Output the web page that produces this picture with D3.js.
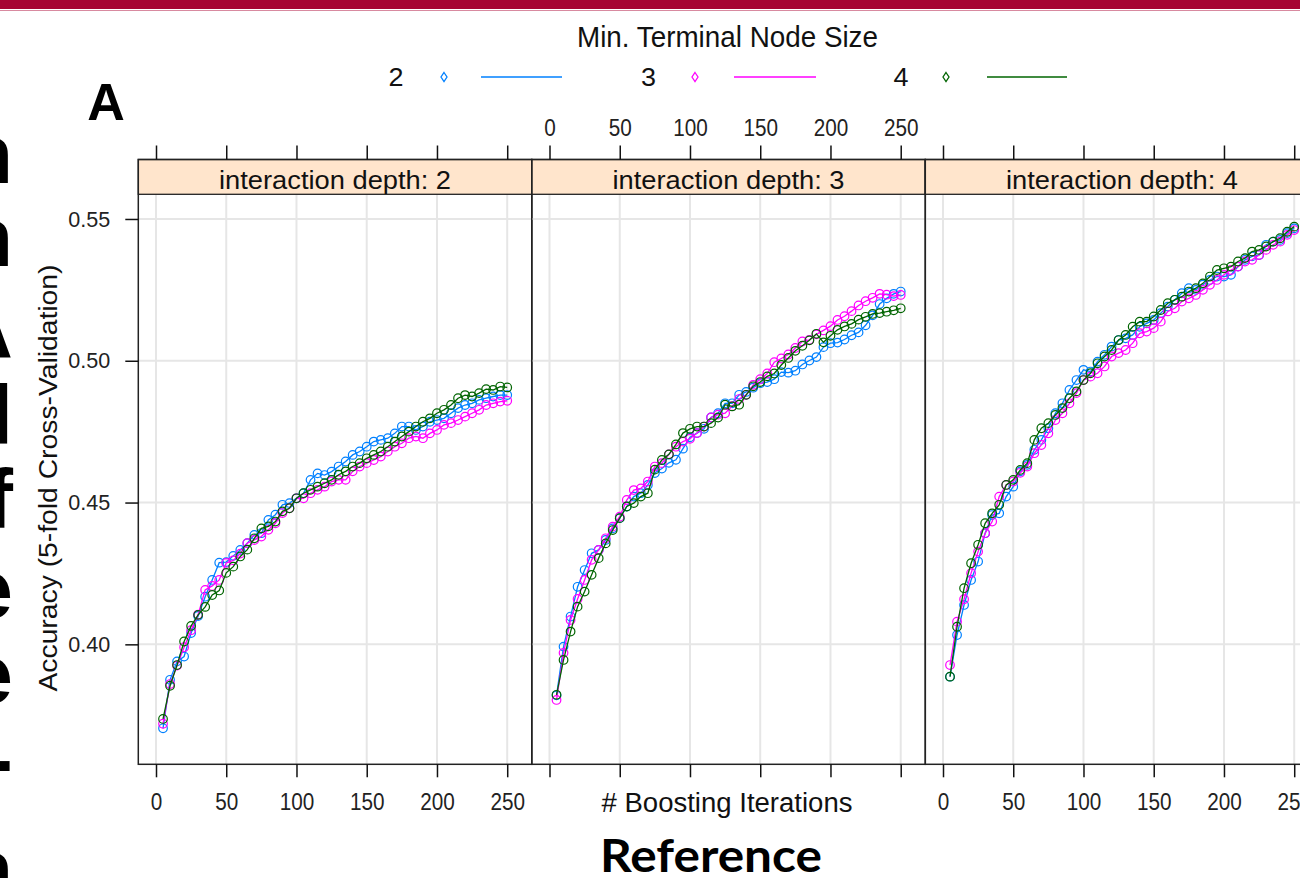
<!DOCTYPE html>
<html><head><meta charset="utf-8">
<script src="https://cdn.jsdelivr.net/npm/d3@7"></script>
<style>body{margin:0;background:#fff}svg{display:block}</style>
</head><body><svg id="c" width="1300" height="878"></svg>
<script>
// ---------------- data ----------------
const iterations = [5,10,15,20,25,30,35,40,45,50,55,60,65,70,75,80,85,90,95,100,
  105,110,115,120,125,130,135,140,145,150,155,160,165,170,175,180,185,190,195,200,
  205,210,215,220,225,230,235,240,245,250];
const panelTitles = ["interaction depth: 2","interaction depth: 3","interaction depth: 4"];
const nodeSizes = ["2","3","4"];
const seriesColors = ["#0080ff","#ff00ff","#006400"];
const xTicks = [0,50,100,150,200,250];
const yTicks = [0.40,0.45,0.50,0.55];
const yTickLabels = ["0.40","0.45","0.50","0.55"];

// interaction depth 2
const d2_n2 = [0.3704,0.3875,0.3940,0.3957,0.4040,0.4100,0.4168,0.4227,0.4288,0.4290,
  0.4312,0.4333,0.4357,0.4386,0.4392,0.4439,0.4457,0.4492,0.4498,0.4515,
  0.4533,0.4580,0.4603,0.4597,0.4609,0.4627,0.4645,0.4668,0.4680,0.4697,
  0.4715,0.4721,0.4727,0.4744,0.4768,0.4768,0.4756,0.4768,0.4785,0.4791,
  0.4797,0.4815,0.4833,0.4844,0.4850,0.4862,0.4868,0.4874,0.4879,0.4879];
const d2_n3 = [0.3720,0.3860,0.3925,0.3990,0.4050,0.4105,0.4192,0.4206,0.4227,0.4287,
  0.4296,0.4320,0.4357,0.4368,0.4380,0.4404,0.4427,0.4463,0.4480,0.4515,
  0.4515,0.4533,0.4545,0.4556,0.4574,0.4580,0.4580,0.4610,0.4627,0.4639,
  0.4650,0.4662,0.4680,0.4697,0.4709,0.4727,0.4733,0.4727,0.4744,0.4756,
  0.4774,0.4780,0.4791,0.4803,0.4815,0.4827,0.4844,0.4850,0.4856,0.4859];
const d2_n4 = [0.3737,0.3854,0.3927,0.4010,0.4065,0.4104,0.4132,0.4174,0.4190,0.4252,
  0.4274,0.4310,0.4334,0.4374,0.4409,0.4416,0.4433,0.4469,0.4480,0.4515,
  0.4533,0.4545,0.4556,0.4568,0.4580,0.4598,0.4610,0.4627,0.4639,0.4656,
  0.4668,0.4680,0.4697,0.4715,0.4733,0.4750,0.4768,0.4785,0.4797,0.4815,
  0.4827,0.4844,0.4868,0.4879,0.4874,0.4886,0.4900,0.4897,0.4909,0.4906];
// interaction depth 3
const d3_n2 = [0.3820,0.3992,0.4098,0.4203,0.4262,0.4321,0.4333,0.4368,0.4409,0.4445,
  0.4486,0.4521,0.4533,0.4562,0.4604,0.4620,0.4640,0.4651,0.4690,0.4730,
  0.4745,0.4760,0.4800,0.4815,0.4850,0.4850,0.4880,0.4890,0.4905,0.4921,
  0.4925,0.4935,0.4960,0.4958,0.4965,0.4987,0.5001,0.5013,0.5048,0.5062,
  0.5064,0.5075,0.5090,0.5100,0.5125,0.5160,0.5200,0.5220,0.5236,0.5244];
const d3_n3 = [0.3804,0.3970,0.4086,0.4160,0.4227,0.4298,0.4333,0.4374,0.4415,0.4450,
  0.4509,0.4544,0.4550,0.4574,0.4627,0.4639,0.4670,0.4697,0.4715,0.4725,
  0.4745,0.4768,0.4800,0.4810,0.4815,0.4840,0.4865,0.4880,0.4915,0.4935,
  0.4955,0.4995,0.5008,0.5022,0.5045,0.5068,0.5074,0.5093,0.5107,0.5122,
  0.5144,0.5157,0.5175,0.5195,0.5210,0.5222,0.5236,0.5233,0.5228,0.5232];
const d3_n4 = [0.3822,0.3945,0.4045,0.4133,0.4186,0.4245,0.4304,0.4356,0.4403,0.4445,
  0.4486,0.4498,0.4521,0.4533,0.4616,0.4650,0.4670,0.4705,0.4745,0.4760,
  0.4768,0.4768,0.4780,0.4800,0.4845,0.4839,0.4845,0.4880,0.4910,0.4925,
  0.4945,0.4955,0.4985,0.5010,0.5035,0.5053,0.5072,0.5095,0.5065,0.5088,
  0.5109,0.5121,0.5130,0.5145,0.5155,0.5165,0.5168,0.5173,0.5178,0.5185];
// interaction depth 4
const d4_n2 = [0.3886,0.4033,0.4139,0.4227,0.4292,0.4392,0.4456,0.4462,0.4521,0.4556,
  0.4610,0.4633,0.4686,0.4721,0.4762,0.4815,0.4850,0.4897,0.4932,0.4968,
  0.4962,0.4997,0.5021,0.5050,0.5073,0.5079,0.5091,0.5120,0.5132,0.5144,
  0.5168,0.5191,0.5215,0.5238,0.5256,0.5250,0.5268,0.5285,0.5297,0.5297,
  0.5303,0.5332,0.5356,0.5368,0.5373,0.5409,0.5420,0.5426,0.5450,0.5467];
const d4_n3 = [0.3927,0.4080,0.4159,0.4251,0.4327,0.4392,0.4433,0.4521,0.4562,0.4574,
  0.4605,0.4627,0.4674,0.4703,0.4744,0.4791,0.4815,0.4850,0.4886,0.4932,
  0.4944,0.4956,0.4980,0.5015,0.5027,0.5038,0.5062,0.5097,0.5103,0.5115,
  0.5138,0.5174,0.5185,0.5209,0.5220,0.5232,0.5250,0.5268,0.5285,0.5303,
  0.5320,0.5332,0.5350,0.5356,0.5373,0.5391,0.5409,0.5420,0.5444,0.5461];
const d4_n4 = [0.3886,0.4062,0.4198,0.4286,0.4351,0.4427,0.4462,0.4492,0.4562,0.4580,
  0.4615,0.4639,0.4721,0.4762,0.4780,0.4809,0.4833,0.4868,0.4892,0.4932,
  0.4956,0.4991,0.5015,0.5038,0.5073,0.5091,0.5120,0.5138,0.5138,0.5156,
  0.5179,0.5203,0.5215,0.5226,0.5244,0.5256,0.5273,0.5297,0.5320,0.5326,
  0.5332,0.5350,0.5362,0.5385,0.5391,0.5403,0.5420,0.5432,0.5455,0.5473];

const panelSeries = [[d2_n2,d2_n3,d2_n4],[d3_n2,d3_n3,d3_n4],[d4_n2,d4_n3,d4_n4]];
const slideFragments = ["n","n","A","l","f","e","e","-","n"];

// ---------------- layout ----------------
const svg = d3.select("#c");
const FONT = "'Liberation Sans', Arial, sans-serif";
const panelW = 393.5, firstLeft = 138.3;
const frameTop = 159.5, stripBottom = 194.3, plotBottom = 764.3;
const y = d3.scaleLinear().domain([0.3577, 0.5587]).range([plotBottom, stripBottom]);
const xScales = [0,1,2].map(i => d3.scaleLinear().domain([-12.6, 267.5])
  .range([firstLeft + i*panelW, firstLeft + (i+1)*panelW]));

function squeeze(sel, len){ sel.attr("textLength", len).attr("lengthAdjust","spacingAndGlyphs"); }

// top slide bar
svg.append("rect").attr("x",0).attr("y",0).attr("width",1300).attr("height",9).attr("fill","#a60433");
svg.append("line").attr("x1",0).attr("x2",1300).attr("y1",10.5).attr("y2",10.5).attr("stroke","#d88aa0").attr("stroke-width",1);

// slide text fragments at left edge (rest of the slide text is off-screen)
const fragY = [183, 266, 358, 444, 528, 618, 703, 788, 898];
svg.selectAll("text.frag").data(slideFragments).join("text").attr("class","frag")
  .attr("x",13).attr("y",(d,i)=>fragY[i]).attr("text-anchor","end")
  .attr("font-family","'Liberation Sans', Arial, sans-serif").attr("font-weight","bold")
  .attr("font-size",84).attr("fill","#000").text(d=>d);

// "A"
svg.append("text").attr("x",106).attr("y",120).attr("text-anchor","middle")
  .attr("font-family",FONT).attr("font-weight","bold").attr("font-size",52).text("A");

// legend
svg.append("text").attr("x",727.5).attr("y",47).attr("text-anchor","middle")
  .attr("font-family",FONT).attr("font-size",29).attr("fill","#111")
  .text("Min. Terminal Node Size").call(squeeze,301);
const legX = [{t:396, p:444, l1:481, l2:562},{t:648.5, p:695, l1:734, l2:816},{t:901, p:946, l1:987, l2:1067}];
nodeSizes.forEach((s,i)=>{
  const g = svg.append("g");
  g.append("text").attr("x",legX[i].t).attr("y",86).attr("text-anchor","middle")
    .attr("font-family",FONT).attr("font-size",26).attr("fill","#111").text(s).call(squeeze,15);
  g.append("path").attr("d",`M${legX[i].p},${72.5}L${legX[i].p+3},77L${legX[i].p},${81.5}L${legX[i].p-3},77Z`)
    .attr("fill","none").attr("stroke",seriesColors[i]).attr("stroke-width",1.3);
  g.append("line").attr("x1",legX[i].l1).attr("x2",legX[i].l2).attr("y1",77).attr("y2",77)
    .attr("stroke",seriesColors[i]).attr("stroke-width",1.6);
});

// panels
panelSeries.forEach((series,pi)=>{
  const x = xScales[pi];
  const L = firstLeft + pi*panelW, R = L + panelW;
  const g = svg.append("g");
  // grid
  g.selectAll("line.vg").data(xTicks).join("line")
    .attr("x1",d=>x(d)).attr("x2",d=>x(d)).attr("y1",stripBottom).attr("y2",plotBottom)
    .attr("stroke","#e6e6e6").attr("stroke-width",2);
  g.selectAll("line.hg").data(yTicks).join("line")
    .attr("x1",L).attr("x2",R).attr("y1",d=>y(d)).attr("y2",d=>y(d))
    .attr("stroke","#e6e6e6").attr("stroke-width",2);
  // series
  series.forEach((vals,si)=>{
    const pts = iterations.map((it,k)=>[it, vals[k]]);
    g.append("path").datum(pts)
      .attr("d", d3.line().x(d=>x(d[0])).y(d=>y(d[1])))
      .attr("fill","none").attr("stroke",seriesColors[si]).attr("stroke-width",1.3);
    g.selectAll("circle.s"+si).data(pts).join("circle")
      .attr("cx",d=>x(d[0])).attr("cy",d=>y(d[1])).attr("r",4.3)
      .attr("fill","none").attr("stroke",seriesColors[si]).attr("stroke-width",1.2);
  });
  // strip
  g.append("rect").attr("x",L).attr("y",frameTop).attr("width",panelW).attr("height",stripBottom-frameTop)
    .attr("fill","#ffe5cc").attr("stroke","#222").attr("stroke-width",1.3);
  g.append("text").attr("x",(L+R)/2).attr("y",stripBottom-5).attr("text-anchor","middle")
    .attr("font-family",FONT).attr("font-size",25).attr("fill","#111")
    .text(panelTitles[pi]).call(squeeze,232);
  // frame
  g.append("rect").attr("x",L).attr("y",frameTop).attr("width",panelW).attr("height",plotBottom-frameTop)
    .attr("fill","none").attr("stroke","#222").attr("stroke-width",1.5);

  // bottom axis
  const bAx = g.append("g").attr("transform",`translate(0,${plotBottom})`)
    .call(d3.axisBottom(x).tickValues(xTicks).tickSize(13).tickSizeOuter(0).tickPadding(16)
      .tickFormat(pi===1 ? ()=>"" : d3.format("d")));
  bAx.select(".domain").remove();
  bAx.selectAll("line").attr("stroke","#111").attr("stroke-width",1.5);
  bAx.selectAll("text").attr("font-family",FONT).attr("font-size",23).attr("fill","#222")
    .each(function(){ const w=this.getComputedTextLength(); if(w>0) d3.select(this).call(squeeze,w*0.9); });
  // top axis
  const tAx = g.append("g").attr("transform",`translate(0,${frameTop})`)
    .call(d3.axisTop(x).tickValues(xTicks).tickSize(14).tickSizeOuter(0).tickPadding(10)
      .tickFormat(pi===1 ? d3.format("d") : ()=>""));
  tAx.select(".domain").remove();
  tAx.selectAll("line").attr("stroke","#111").attr("stroke-width",1.5);
  tAx.selectAll("text").attr("font-family",FONT).attr("font-size",23).attr("fill","#222")
    .each(function(){ const w=this.getComputedTextLength(); if(w>0) d3.select(this).call(squeeze,w*0.9); });
});

// left axis
const lAx = svg.append("g").attr("transform",`translate(${firstLeft},0)`)
  .call(d3.axisLeft(y).tickValues(yTicks).tickSize(13).tickSizeOuter(0).tickPadding(15)
    .tickFormat((d,i)=>yTickLabels[i]));
lAx.select(".domain").remove();
lAx.selectAll("line").attr("stroke","#111").attr("stroke-width",1.5);
lAx.selectAll("text").attr("font-family",FONT).attr("font-size",22).attr("fill","#222")
  .each(function(){ d3.select(this).call(squeeze,42); });

// axis titles
svg.append("text").attr("x",727).attr("y",812).attr("text-anchor","middle")
  .attr("font-family",FONT).attr("font-size",27).attr("fill","#111")
  .text("# Boosting Iterations").call(squeeze,251);
svg.append("text").attr("transform","translate(57,478) rotate(-90)").attr("text-anchor","middle")
  .attr("font-family",FONT).attr("font-size",26).attr("fill","#111")
  .text("Accuracy (5-fold Cross-Validation)").call(squeeze,427);

// slide caption
svg.append("text").attr("x",711).attr("y",872).attr("text-anchor","middle")
  .attr("font-family","Lato, 'Open Sans', sans-serif").attr("font-weight","bold").attr("font-size",46)
  .attr("fill","#000").text("Reference").call(squeeze,222);
</script></body></html>
